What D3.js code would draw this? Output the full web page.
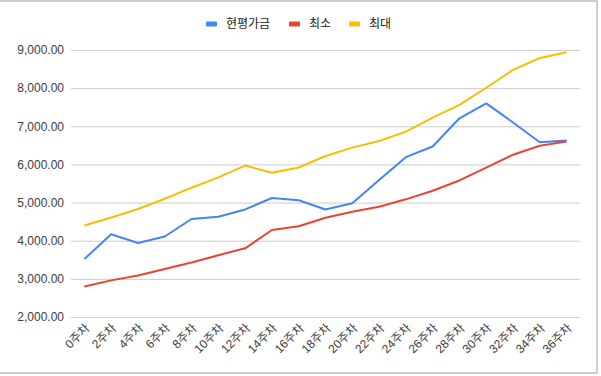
<!DOCTYPE html>
<html>
<head>
<meta charset="utf-8">
<script src="https://cdn.jsdelivr.net/npm/d3@7"></script>
<style>
  body { margin: 0; background: #fff; }
  svg text { font-family: "Liberation Sans", Arial, "Noto Sans CJK KR", sans-serif; }
</style>
</head>
<body>
<div id="chart"></div>
<script>
var weeks = ["0주차","2주차","4주차","6주차","8주차","10주차","12주차","14주차","16주차","18주차",
             "20주차","22주차","24주차","26주차","28주차","30주차","32주차","34주차","36주차"];
var current = [3520,4170,3940,4110,4570,4630,4820,5120,5060,4820,4980,5590,6190,6470,7210,7600,7100,6580,6630];
var minVals = [2800,2960,3090,3260,3430,3620,3800,4280,4380,4600,4760,4890,5085,5310,5580,5915,6255,6490,6600];
var maxVals = [4400,4610,4830,5100,5390,5660,5970,5780,5920,6220,6440,6615,6860,7225,7560,8010,8480,8790,8940];
var yTicks = [2000,3000,4000,5000,6000,7000,8000,9000];

var seriesList = [
  {name: "현평가금", values: current, color: "#4285F4"},
  {name: "최소", values: minVals, color: "#EA4335"},
  {name: "최대", values: maxVals, color: "#FBBC04"}
];

var width = 601, height = 376;
var margin = {top: 50, right: 21, bottom: 59, left: 71};

var svg = d3.select("#chart").append("svg")
    .attr("width", width)
    .attr("height", height);

// frame of the embedded chart
svg.append("rect")
    .attr("x", -1).attr("y", 1)
    .attr("width", 598).attr("height", 372)
    .attr("fill", "#fff")
    .attr("stroke", "#9e9e9e");

var x = d3.scaleBand()
    .domain(weeks)
    .range([margin.left, width - margin.right]);

var y = d3.scaleLinear()
    .domain([2000, 9000])
    .range([height - margin.bottom, margin.top]);

var yAxis = d3.axisLeft(y)
    .tickValues(yTicks)
    .tickSize(-(width - margin.left - margin.right))
    .tickPadding(7)
    .tickFormat(d3.format(",.2f"));

var gy = svg.append("g")
    .attr("transform", `translate(${margin.left},0)`)
    .call(yAxis);
gy.select(".domain").remove();
gy.selectAll(".tick line").attr("stroke", "#cccccc");
gy.selectAll(".tick text")
    .attr("fill", "#3c3c3c")
    .style("font-size", "12px");

var xAxis = d3.axisBottom(x).tickSize(0).tickPadding(0);
var gx = svg.append("g")
    .attr("transform", `translate(0,${height - margin.bottom})`)
    .call(xAxis);
gx.select(".domain").remove();
gx.selectAll(".tick text")
    .attr("fill", "#3c3c3c")
    .style("font-size", "12px")
    .style("text-anchor", "end")
    .attr("dy", 0)
    .attr("transform", "translate(6,12) rotate(-45)");

var line = d3.line()
    .x((d, i) => x(weeks[i]) + x.bandwidth() / 2)
    .y(d => y(d));

svg.selectAll("path.series")
    .data(seriesList)
    .enter()
    .append("path")
    .attr("class", "series")
    .attr("fill", "none")
    .attr("stroke", d => d.color)
    .attr("stroke-width", 2)
    .attr("stroke-linejoin", "round")
    .attr("d", d => line(d.values));

// legend
var legendPos = [206, 289, 349];
var legend = svg.selectAll("g.legend")
    .data(seriesList)
    .enter()
    .append("g")
    .attr("class", "legend")
    .attr("transform", (d, i) => `translate(${legendPos[i]},24)`);

legend.append("rect")
    .attr("x", 0).attr("y", -2.5)
    .attr("width", 11).attr("height", 5)
    .attr("rx", 1)
    .attr("fill", d => d.color);

legend.append("text")
    .attr("x", 20)
    .attr("dy", "0.35em")
    .attr("fill", "#222")
    .style("font-size", "12px")
    .text(d => d.name);
</script>
</body>
</html>
